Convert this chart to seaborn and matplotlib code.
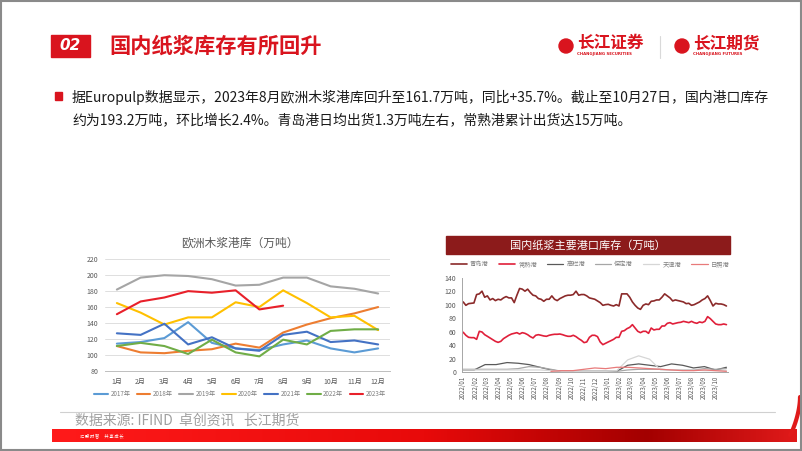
import matplotlib
matplotlib.use('Agg')
import matplotlib.pyplot as plt
import matplotlib.dates as mdates
from matplotlib.colors import LinearSegmentedColormap
from matplotlib.lines import Line2D
from matplotlib.patches import Rectangle, Circle
import numpy as np
import pandas as pd
import seaborn as sns

sns.set_theme(style='white')
plt.rcParams['font.family'] = ['Noto Sans CJK SC', 'DejaVu Sans']
plt.rcParams['axes.unicode_minus'] = False

# ---- left chart: 欧洲木浆港库 (万吨) ----
months = ['1月', '2月', '3月', '4月', '5月', '6月', '7月', '8月', '9月', '10月', '11月', '12月']
y2017 = [114, 116, 121, 141, 115, 108, 106, 113, 118, 108, 103, 108]
y2018 = [111, 103, 102, 105, 107, 114, 109, 128, 138, 146, 152, 160]
y2019 = [182, 197, 200, 199, 195, 187, 188, 197, 197, 186, 183, 177]
y2020 = [165, 153, 138, 147, 147, 166, 160, 181, 165, 147, 149, 131]
y2021 = [127, 125, 139, 113, 122, 108, 105, 125, 129, 116, 118, 113]
y2022 = [111, 115, 111, 101, 119, 103, 98, 119, 113, 130, 132, 132]
y2023 = [151, 167, 172, 180, 178, 181, 157, 161.7]
year_names = ['2017年', '2018年', '2019年', '2020年', '2021年', '2022年', '2023年']
year_colors = ['#5B9BD5', '#ED7D31', '#A5A5A5', '#FFC000', '#4472C4', '#70AD47', '#E8202A']

# ---- right chart: 国内纸浆主要港口库存 (万吨), weekly ----
qingdao = [104, 99, 101.5, 102, 102.5, 115, 116, 120, 111, 113,
           107, 109, 106, 108, 107, 110, 112, 110, 110, 103,
           114, 124, 123, 120, 123, 118, 114, 113, 109, 108,
           105, 108, 108, 113, 108, 106, 109, 111, 113, 114,
           114, 115, 120, 114, 115, 115, 113, 110, 109, 108,
           105.5, 103, 99, 100, 100.5, 99, 98, 100, 98, 116,
           116, 116, 111, 104, 99, 95, 93, 99, 101, 100,
           105, 105.5, 107, 107, 111, 116, 113, 110, 105.5, 107,
           106, 105, 104, 101.5, 102, 99, 100, 102, 104, 107,
           109, 113, 106, 98, 102, 101, 101, 100, 98]
changshu = [59, 54.5, 51.5, 51, 51, 48.5, 60.4, 59.4, 55.4, 53,
            50.5, 48, 45.5, 44, 45.5, 49.5, 52, 54.5, 56.4, 57.4,
            58.4, 56.4, 58.4, 57.4, 55.4, 52.5, 50.5, 54.5, 55.4, 54.5,
            53.5, 53, 54.5, 55.4, 56, 56, 56.4, 55.4, 54, 53,
            53, 54.5, 52.5, 49.5, 47, 43.6, 44.6, 51.5, 54.5, 54.5,
            52.5, 44.6, 40.6, 42.6, 44.6, 46.5, 48.5, 51.5, 51.5, 60.4,
            61.4, 64.4, 66.3, 70.3, 65.3, 60.4, 58.4, 60.4, 60.4, 57.4,
            65.3, 62.4, 63.4, 63.4, 68.3, 68.3, 72.3, 73.3, 71.3, 72.3,
            73.3, 73.8, 75.2, 74.3, 73.3, 75.2, 73.3, 72.3, 74.3, 73.3,
            75.2, 82.2, 79.2, 75.2, 71.3, 70.3, 70.3, 71.3, 70.3]
# smaller ports, read at a coarser step
gaolan = [3, 3, 11, 11, 14, 13, 11, 7, 3, 1, 1, 1, 1, 1, 1, 10, 12, 10, 8, 12, 10, 6, 8, 3, 7]
baoding = [4, 4, 4, 4, 4, 5, 8, 7, 4, 1, 1, 1, 1, 1, 1, 3, 4, 4, 4, 3, 3, 3, 5, 4, 5]
tianjin = [3, 3, 3, 3, 3, 3, 3, 3, 2, 1, 1, 1, 1, 1, 2, 18, 24, 19, 3, 3, 3, 3, 2, 2, 2]
rizhao = [np.nan] * 8 + [1, 2, 2, 4, 6, 5, 7, 7, 6, 5, 4, 3, 2, 2, 3, 2, 1]
port_names = ['青岛港', '常熟港', '高栏港', '保定港', '天津港', '日照港']
port_colors = ['#8B2A2A', '#E01F3A', '#595959', '#A6A6A6', '#D6D6D6', '#E87A7A']

start, end = pd.Timestamp('2022-01-01'), pd.Timestamp('2023-10-27')
weeks = pd.date_range(start, end, periods=len(qingdao))
weeks_minor = pd.date_range(start, end, periods=len(gaolan))

W, H = 802, 451
fig = plt.figure(figsize=(W / 100, H / 100), dpi=100)
fig.patch.set_facecolor('white')

# background layer in pixel coordinates
bg = fig.add_axes([0, 0, 1, 1])
bg.axis('off')
red = '#D9141E'
bg.add_patch(Rectangle((51, 35), 39, 22, color=red))
bg.text(70.5, 46, '02', color='white', fontsize=11, fontweight='bold', style='italic',
        ha='center', va='center', family=['DejaVu Sans'])
bg.text(109, 46, '国内纸浆库存有所回升', color=red, fontsize=15.3, fontweight='bold',
        ha='left', va='center')

# logos
for cx, name, sub in [(566, '长江证券', 'CHANGJIANG SECURITIES'), (682, '长江期货', 'CHANGJIANG FUTURES')]:
    bg.add_patch(Circle((cx, 46), 7, color=red))
    bg.text(cx + 11, 43, name, color=red, fontsize=12, fontweight='bold', ha='left', va='center')
    bg.text(cx + 11, 54.5, sub, color=red, fontsize=2.8, fontweight='bold', ha='left', va='center',
            family=['DejaVu Sans'])
bg.plot([660, 660], [36, 58], color='#D9D9D9', lw=0.8)

# bullet text
bg.add_patch(Rectangle((55, 92), 7, 8, color=red))
bg.text(72, 97, '据Europulp数据显示，2023年8月欧洲木浆港库回升至161.7万吨，同比+35.7%。截止至10月27日，国内港口库存',
        fontsize=10, color='#1A1A1A', ha='left', va='center')
bg.text(72, 120, '约为193.2万吨，环比增长2.4%。青岛港日均出货1.3万吨左右，常熟港累计出货达15万吨。',
        fontsize=10, color='#1A1A1A', ha='left', va='center')

# right chart title band
bg.add_patch(Rectangle((446, 236), 284, 18, color='#8C1B1B'))
bg.text(588, 245, '国内纸浆主要港口库存（万吨）', color='white', fontsize=8, ha='center', va='center')

# left chart title
bg.text(240, 243, '欧洲木浆港库（万吨）', color='#595959', fontsize=8.5, ha='center', va='center')

# footer
bg.plot([60, 775], [412, 412], color='#D0D0D0', lw=0.8)
bg.text(75, 421, '数据来源: IFIND  卓创资讯   长江期货', color='#A0A0A0', fontsize=10,
        ha='left', va='center')
band_cmap = LinearSegmentedColormap.from_list(
    'band', [(0, '#FF1A1A'), (0.5, '#E80A0A'), (0.8, '#A30000'), (1, '#E01A1A')])
bg.imshow(np.linspace(0, 1, 256)[None, :], cmap=band_cmap, aspect='auto',
          extent=(52, 797, 442, 429), zorder=1)
tt = np.linspace(0, np.pi / 2, 30)
bg.plot(790 + 10 * np.sin(tt), 435 - 38 * (1 - np.cos(tt)) ** 0.6, color='#E01A1A', lw=3,
        solid_capstyle='round', zorder=1)
bg.text(80, 436, '汇 聚 财 智      共 享 成 长', color='white', fontsize=3, ha='left', va='center', zorder=2)
bg.add_patch(Rectangle((0.8, 0.8), W - 1.6, H - 1.6, fill=False, edgecolor='#8A8A8A', lw=1.5, zorder=3))
bg.set_xlim(0, W)
bg.set_ylim(H, 0)

# ---- left chart ----
ax1 = fig.add_axes([105 / W, 1 - 370.7 / H, 285 / W, 111.4 / H])
left_rows = []
for name, vals in zip(year_names, [y2017, y2018, y2019, y2020, y2021, y2022, y2023]):
    for i, v in enumerate(vals):
        left_rows.append({'month': i, 'value': v, 'year': name})
left_df = pd.DataFrame(left_rows)
sns.lineplot(data=left_df, x='month', y='value', hue='year', hue_order=year_names,
             palette=dict(zip(year_names, year_colors)), linewidth=1.5, ax=ax1, legend=False)
ax1.set_xlim(-0.5, 11.5)
ax1.set_ylim(80, 220)
ax1.set_yticks(range(80, 221, 20))
ax1.set_xticks(range(12))
ax1.set_xticklabels(months)
ax1.set_xlabel('')
ax1.set_ylabel('')
ax1.yaxis.grid(True, color='#D9D9D9', lw=0.6)
for s in ['top', 'right', 'left']:
    ax1.spines[s].set_visible(False)
ax1.spines['bottom'].set_color('#BFBFBF')
ax1.spines['bottom'].set_linewidth(0.7)
ax1.tick_params(axis='both', length=0, labelsize=5, colors='#595959')
ax1.tick_params(axis='y', pad=5)
ax1.tick_params(axis='x', pad=5)
year_handles = [Line2D([], [], color=c, lw=1.5) for c in year_colors]
fig.legend(year_handles, year_names, loc='center', bbox_to_anchor=(240 / W, 1 - 394 / H),
           ncol=7, frameon=False, fontsize=4.5, handlelength=2.2, handletextpad=0.4,
           columnspacing=1.0, labelcolor='#7F7F7F')

# ---- right chart ----
ax2 = fig.add_axes([462 / W, 1 - 372 / H, 266 / W, 94.3 / H])
series = [(gaolan, weeks_minor, 2), (baoding, weeks_minor, 3), (tianjin, weeks_minor, 4),
          (rizhao, weeks_minor, 5), (changshu, weeks, 1), (qingdao, weeks, 0)]
for vals, dates, k in series:
    sns.lineplot(x=dates, y=vals, ax=ax2, color=port_colors[k],
                 linewidth=1.2 if k < 2 else 0.9)
ax2.set_xlabel('')
ax2.set_ylabel('')
ax2.set_ylim(0, 140)
ax2.set_yticks(range(0, 141, 20))
ax2.set_xlim(pd.Timestamp('2021-12-29'), pd.Timestamp('2023-10-31'))
ax2.xaxis.set_major_locator(mdates.MonthLocator())
ax2.xaxis.set_major_formatter(mdates.DateFormatter('%Y/%m'))
for s in ['top', 'right']:
    ax2.spines[s].set_visible(False)
for s in ['left', 'bottom']:
    ax2.spines[s].set_color('#A6A6A6')
    ax2.spines[s].set_linewidth(0.7)
ax2.tick_params(axis='both', labelsize=5, colors='#595959', length=2, width=0.5, direction='out')
ax2.tick_params(axis='x', labelsize=4.5, rotation=90, pad=1)
ax2.tick_params(axis='y', pad=2)
ax2.set_facecolor('none')
handles = [Line2D([], [], color=c, lw=1.2 if i < 2 else 0.9) for i, c in enumerate(port_colors)]
fig.legend(handles, port_names, loc='center', bbox_to_anchor=(590 / W, 1 - 264 / H), ncol=6,
           frameon=False, fontsize=4.5, handlelength=2.6, handletextpad=0.5, columnspacing=1.6,
           labelcolor='#7F7F7F')

fig.savefig('out.png', dpi=100)
